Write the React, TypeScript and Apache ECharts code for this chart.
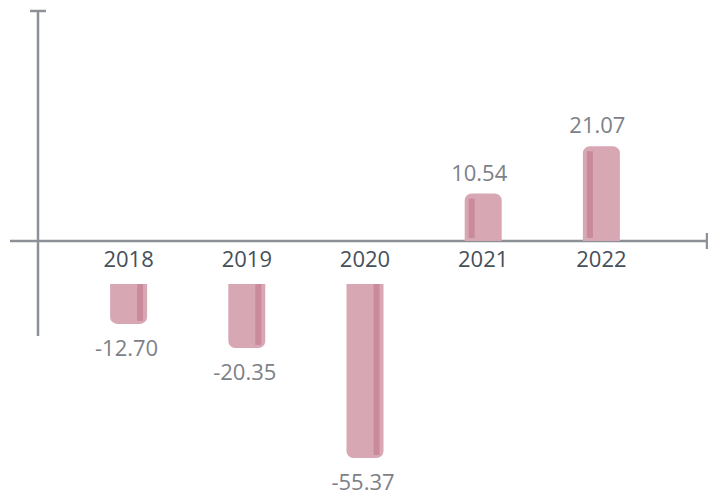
import React, { useEffect, useRef } from "react";
import * as echarts from "echarts";

const years = ["2018", "2019", "2020", "2021", "2022"];
const values = [-12.7, -20.35, -55.37, 10.54, 21.07];

const BAR = "#d8a7b4";
const STRIPE = "#c98a9c";
const AXIS = "#8c9198";
const FONT = "Open Sans";

function makeRender(positive: boolean) {
  return (params: any, api: any) => {
    const idx = api.value(0);
    const v = api.value(1);
    const base = api.coord([idx, 0]);
    const end = api.coord([idx, v]);
    const cx = base[0];
    const w = 37;
    const x0 = cx - w / 2;
    const top = Math.min(base[1], end[1]);
    const h = Math.abs(end[1] - base[1]);
    const label = values[idx].toFixed(2);
    if (positive) {
      return {
        type: "group",
        children: [
          { type: "rect", shape: { x: x0, y: top, width: w, height: h, r: [7, 7, 0, 0] }, style: { fill: BAR } },
          { type: "rect", shape: { x: x0 + 4, y: top + 5, width: 6, height: Math.max(h - 8, 0) }, style: { fill: STRIPE } },
          { type: "text", style: { text: label, x: cx - 4, y: top - 22, align: "center", verticalAlign: "middle", fontSize: 22, fontFamily: FONT, fill: "#7d8187" } },
        ],
      };
    }
    return {
      type: "group",
      children: [
        { type: "rect", shape: { x: x0, y: top, width: w, height: h, r: [0, 0, 7, 7] }, style: { fill: BAR } },
        { type: "rect", shape: { x: x0 + w - 10, y: top, width: 6, height: Math.max(h - 3, 0) }, style: { fill: STRIPE } },
        { type: "text", style: { text: label, x: cx - 2, y: top + h + 23, align: "center", verticalAlign: "middle", fontSize: 22, fontFamily: FONT, fill: "#7d8187" } },
      ],
    };
  };
}

export default function App() {
  const ref = useRef<HTMLDivElement>(null);
  useEffect(() => {
    if (!ref.current) return;
    const chart = echarts.init(ref.current, null, { renderer: "svg" });
    const posData = values.map((v, i) => [i, v]).filter((d) => d[1] >= 0);
    const negData = values.map((v, i) => [i, v]).filter((d) => d[1] < 0);
    chart.setOption({
      animation: false,
      grid: [
        { left: 69.5, width: 591, top: 16, height: 225 },
        { left: 69.5, width: 591, top: 284, height: 188.5 },
      ],
      xAxis: [
        {
          type: "category",
          gridIndex: 0,
          data: years,
          axisLine: { show: false },
          axisTick: { show: false },
          axisLabel: { color: "#46505a", fontSize: 22, fontFamily: FONT, margin: 6 },
        },
        { type: "category", gridIndex: 1, data: years, show: false },
      ],
      yAxis: [
        { type: "value", gridIndex: 0, min: 0, max: 50, show: false },
        { type: "value", gridIndex: 1, min: -60, max: 0, show: false },
      ],
      series: [
        { type: "custom", xAxisIndex: 0, yAxisIndex: 0, data: posData, renderItem: makeRender(true) },
        { type: "custom", xAxisIndex: 1, yAxisIndex: 1, data: negData, renderItem: makeRender(false) },
      ],
      graphic: [
        { type: "line", shape: { x1: 10, y1: 241, x2: 707, y2: 241 }, style: { stroke: AXIS, lineWidth: 2.5 } },
        { type: "line", shape: { x1: 707, y1: 233, x2: 707, y2: 249 }, style: { stroke: AXIS, lineWidth: 2.5 } },
        { type: "line", shape: { x1: 38, y1: 11, x2: 38, y2: 336 }, style: { stroke: AXIS, lineWidth: 2.5 } },
        { type: "line", shape: { x1: 30, y1: 11, x2: 46, y2: 11 }, style: { stroke: AXIS, lineWidth: 2.5 } },
      ],
    });
    return () => chart.dispose();
  }, []);
  return (
    <div
      ref={ref}
      style={{ position: "fixed", left: 0, top: 0, width: 708, height: 495, background: "#fff" }}
    />
  );
}
